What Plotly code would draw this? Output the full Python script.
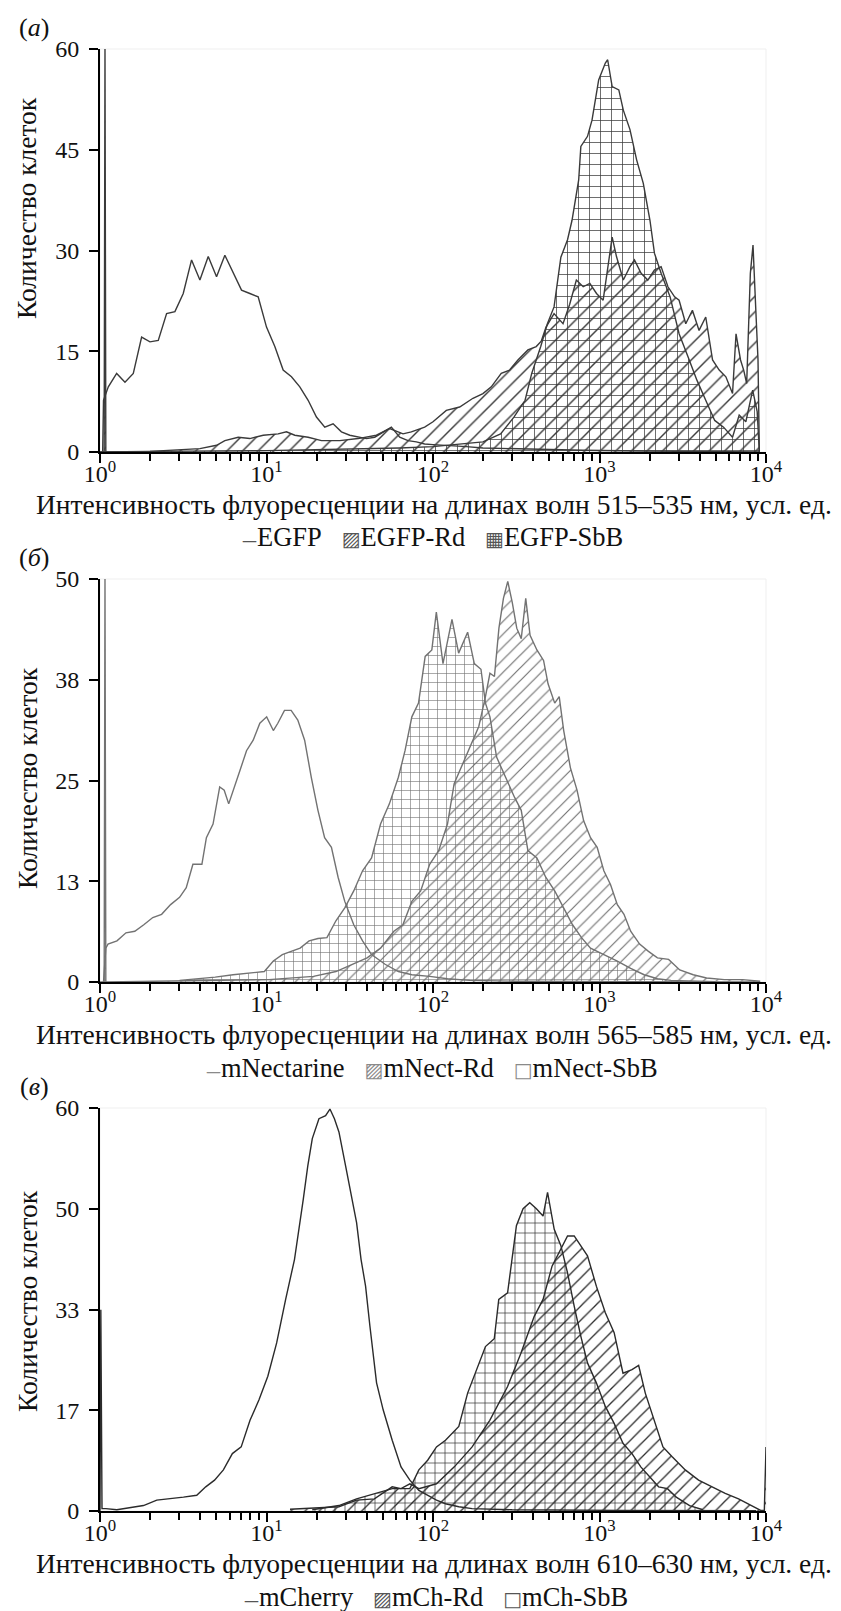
import plotly.graph_objects as go

# ---------------- data (log10 of intensity, cell counts) ----------------
# Panel (a)
EGFP_LOGX = [0.016, 0.021, 0.05, 0.10, 0.15, 0.20, 0.25, 0.30, 0.35, 0.40, 0.45, 0.50,
             0.55, 0.60, 0.65, 0.70, 0.75, 0.80, 0.85, 0.90, 0.95, 1.00,
             1.05, 1.10, 1.15, 1.20, 1.25, 1.30, 1.35, 1.40, 1.45, 1.50,
             1.55, 1.60, 1.65, 1.70, 1.75, 1.80, 1.85, 1.90, 1.95, 2.00,
             2.10, 2.20, 2.30, 2.45, 2.65, 2.90, 3.25, 3.65, 3.96]
EGFP_Y = [0, 7.7, 9.7, 11.7, 10.4, 11.7, 17.1, 16.4, 16.6, 20.6, 20.9, 23.6,
          28.6, 25.6, 29.1, 26.1, 29.3, 26.6, 24.1, 23.6, 23.1, 18.6,
          15.7, 12.2, 11.2, 9.7, 7.7, 5.2, 3.7, 4.2, 3.0, 2.5,
          2.2, 2.0, 2.2, 3.0, 3.7, 2.2, 1.7, 1.5, 1.2, 1.1,
          1.0, 0.8, 0.6, 0.5, 0.35, 0.25, 0.15, 0.1, 0]

EGFP_RD_LOGX = [0.0, 0.025, 0.03, 0.035, 0.30, 0.50, 0.60, 0.70, 0.75, 0.83, 0.90, 0.98, 1.07, 1.12,
                1.17, 1.25, 1.33, 1.44, 1.55, 1.66, 1.74, 1.82, 1.87, 1.95,
                2.00, 2.08, 2.16, 2.24, 2.30, 2.35, 2.41, 2.46, 2.51, 2.57,
                2.62, 2.65, 2.679, 2.727, 2.781, 2.821, 2.861, 2.902, 2.942, 2.982,
                3.022, 3.076, 3.102, 3.143, 3.183, 3.210, 3.250, 3.290, 3.330, 3.370,
                3.411, 3.451, 3.478, 3.518, 3.558, 3.598, 3.638, 3.679, 3.719, 3.759,
                3.799, 3.820, 3.847, 3.866, 3.884, 3.906, 3.922, 3.938, 3.952, 3.960]
EGFP_RD_Y = [0, 0, 60, 0, 0.1, 0.3, 0.5, 1.0, 1.7, 2.2, 2.0, 2.5, 2.7, 3.0,
             2.5, 2.2, 1.7, 1.7, 2.0, 2.5, 3.5, 2.7, 3.0, 3.7,
             4.5, 6.2, 6.7, 8.0, 8.7, 9.7, 11.7, 12.2, 13.7, 15.2,
             15.7, 16.5, 18.6, 20.6, 19.1, 22.0, 25.6, 24.6, 25.1, 23.6,
             22.6, 32.0, 29.1, 25.6, 27.6, 28.6, 26.6, 25.6, 27.1, 27.6,
             24.6, 23.1, 22.6, 19.1, 21.1, 18.1, 20.1, 13.7, 12.2, 11.2,
             8.7, 17.6, 13.7, 12.2, 10.2, 26.6, 30.8, 21.6, 13.7, 0]

EGFP_SBB_LOGX = [0.0, 0.30, 1.00, 1.50, 1.80, 2.00, 2.10, 2.20, 2.30,
                 2.406, 2.486, 2.553, 2.593, 2.647, 2.687, 2.727, 2.768, 2.808, 2.835,
                 2.875, 2.888, 2.928, 2.955, 2.995, 3.035, 3.049, 3.076, 3.116, 3.143,
                 3.183, 3.223, 3.263, 3.303, 3.330, 3.370, 3.424, 3.478, 3.531, 3.585,
                 3.638, 3.692, 3.745, 3.799, 3.839, 3.879, 3.920, 3.947, 3.960]
EGFP_SBB_Y = [0, 0.1, 0.2, 0.4, 0.6, 0.8, 1.0, 1.2, 1.5,
              2.7, 5.2, 7.7, 11.7, 15.7, 19.1, 21.6, 29.0, 31.6, 34.5,
              40.5, 45.5, 47.0, 49.4, 55.4, 57.9, 58.4, 54.4, 53.9, 50.9,
              48.0, 43.5, 40.0, 34.5, 29.6, 26.6, 23.1, 17.6, 14.2, 10.7,
              7.7, 4.7, 3.7, 2.2, 5.5, 4.5, 9.2, 6.0, 0]

# Panel (b)
MNECT_LOGX = [0.021, 0.035, 0.048, 0.102, 0.156, 0.209, 0.263, 0.317, 0.370, 0.424,
              0.478, 0.518, 0.558, 0.612, 0.639, 0.679, 0.719, 0.746, 0.773, 0.799,
              0.840, 0.880, 0.920, 0.960, 1.001, 1.041, 1.068, 1.108, 1.148, 1.188,
              1.229, 1.269, 1.309, 1.349, 1.390, 1.430, 1.470, 1.524, 1.577, 1.631,
              1.712, 1.792, 1.873, 1.980, 2.087, 2.221, 2.490, 3.160, 3.965]
MNECT_Y = [0, 4.2, 4.7, 5.1, 6.1, 6.3, 7.1, 8.0, 8.4, 9.6,
           10.5, 11.7, 14.6, 14.6, 17.9, 19.6, 24.2, 23.8, 22.1, 23.8,
           26.2, 28.7, 30.0, 32.1, 32.9, 31.2, 32.1, 33.7, 33.7, 32.5,
           30.0, 25.4, 21.3, 17.9, 16.7, 13.0, 10.0, 7.1, 5.1, 3.4,
           2.2, 1.3, 0.9, 0.7, 0.4, 0.2, 0.1, 0.05, 0]

MNECT_RD_LOGX = [0.0, 0.025, 0.03, 0.035,
                 1.014, 1.282, 1.417, 1.497, 1.604, 1.685, 1.765, 1.819, 1.873, 1.926,
                 1.980, 2.034, 2.087, 2.127, 2.168, 2.221, 2.275, 2.315, 2.342, 2.369,
                 2.396, 2.423, 2.449, 2.476, 2.503, 2.530, 2.557, 2.583, 2.624, 2.664,
                 2.691, 2.731, 2.758, 2.785, 2.825, 2.865, 2.905, 2.946, 2.986, 3.026,
                 3.066, 3.107, 3.147, 3.187, 3.241, 3.294, 3.348, 3.415, 3.482, 3.563,
                 3.643, 3.750, 3.858, 3.965]
MNECT_RD_Y = [0, 0, 50, 0,
              0.3, 0.7, 1.3, 2.0, 3.0, 4.2, 6.3, 7.1, 10.0, 11.3,
              14.6, 16.3, 19.6, 24.6, 26.6, 29.2, 31.7, 35.4, 38.3, 37.9,
              43.9, 47.6, 49.7, 47.1, 43.9, 42.6, 47.6, 43.0, 41.2, 39.9,
              37.0, 34.6, 35.4, 31.2, 26.6, 23.8, 20.0, 17.9, 16.7, 13.8,
              12.1, 9.6, 8.4, 6.3, 4.7, 3.8, 3.0, 2.8, 1.5, 0.9,
              0.5, 0.3, 0.3, 0.1]

MNECT_SBB_LOGX = [0.478, 0.585, 0.692, 0.799, 0.907, 0.987, 1.041, 1.095, 1.148, 1.202,
                  1.256, 1.309, 1.363, 1.417, 1.470, 1.524, 1.577, 1.631, 1.685, 1.738,
                  1.792, 1.832, 1.873, 1.913, 1.953, 1.993, 2.020, 2.060, 2.114, 2.154,
                  2.208, 2.248, 2.288, 2.315, 2.342, 2.382, 2.436, 2.490, 2.530, 2.570,
                  2.624, 2.677, 2.731, 2.785, 2.838, 2.892, 2.946, 3.026, 3.107, 3.187,
                  3.268, 3.348, 3.429, 3.697]
MNECT_SBB_Y = [0.2, 0.4, 0.6, 0.9, 1.1, 1.3, 2.6, 3.4, 3.8, 4.2,
               5.1, 5.4, 5.5, 7.6, 9.2, 11.3, 13.8, 15.4, 19.6, 22.1,
               25.4, 28.7, 32.9, 34.6, 40.4, 41.2, 45.9, 39.5, 45.0, 40.8,
               43.4, 39.5, 38.8, 34.6, 32.9, 27.9, 25.4, 22.9, 21.3, 16.3,
               15.4, 13.0, 11.3, 9.2, 7.1, 5.5, 4.2, 3.4, 2.6, 1.7,
               0.9, 0.4, 0.2, 0.05]

# Panel (c)  (axis units: four equal tick steps up to the top tick)
MCH_LOGX = [0.0, 0.005, 0.012, 0.035, 0.101, 0.181, 0.261, 0.341, 0.421, 0.501,
            0.581, 0.635, 0.688, 0.741, 0.795, 0.848, 0.901, 0.955, 1.008, 1.061,
            1.115, 1.168, 1.221, 1.248, 1.275, 1.315, 1.355, 1.381, 1.408, 1.435,
            1.475, 1.515, 1.541, 1.568, 1.595, 1.621, 1.661, 1.701, 1.755, 1.808,
            1.861, 1.915, 1.968, 2.021, 2.075, 2.155, 2.235, 2.475, 3.141, 3.941]
MCH_Y = [0, 33.3, 0.4, 0.4, 0.2, 0.55, 0.9, 1.8, 2.0, 2.3,
         2.6, 4.0, 5.1, 6.8, 9.5, 10.6, 15.0, 18.4, 22.3, 27.8,
         35.0, 41.6, 51.6, 57.1, 61.6, 64.9, 65.4, 66.5, 64.9, 62.7,
         57.1, 51.6, 47.7, 41.6, 37.2, 30.6, 21.2, 16.7, 11.7, 7.3,
         5.1, 3.4, 2.6, 1.8, 1.2, 0.7, 0.4, 0.2, 0.1, 0.05]

MCH_RD_LOGX = [1.141, 1.328, 1.435, 1.541, 1.648, 1.755, 1.808, 1.861, 1.915, 2.021,
               2.128, 2.235, 2.341, 2.448, 2.528, 2.608, 2.661, 2.715, 2.768, 2.808,
               2.848, 2.888, 2.928, 2.981, 3.035, 3.088, 3.141, 3.195, 3.235, 3.275,
               3.328, 3.381, 3.435, 3.515, 3.595, 3.675, 3.755, 3.835, 3.915, 3.968,
               3.99, 4.0]
MCH_RD_Y = [0.3, 0.5, 0.7, 1.8, 2.0, 4.0, 3.7, 4.5, 3.7, 4.5,
            7.3, 10.6, 15.0, 20.6, 26.1, 32.2, 35.0, 40.5, 43.3, 45.5,
            45.5, 43.9, 42.2, 37.2, 32.8, 29.5, 22.8, 23.4, 24.1, 19.5,
            15.0, 10.6, 9.0, 6.8, 5.1, 4.0, 2.9, 2.0, 0.9, 0.1,
            0.1, 10.6]

MCH_SBB_LOGX = [1.275, 1.435, 1.541, 1.648, 1.755, 1.861, 1.915, 1.968, 2.021, 2.075,
                2.155, 2.208, 2.261, 2.315, 2.368, 2.395, 2.448, 2.501, 2.541, 2.581,
                2.621, 2.661, 2.688, 2.728, 2.768, 2.808, 2.848, 2.888, 2.928, 2.981,
                3.035, 3.088, 3.141, 3.195, 3.248, 3.301, 3.355, 3.408, 3.461, 3.541,
                3.621]
MCH_SBB_Y = [0.2, 0.9, 2.0, 2.9, 3.7, 3.7, 6.8, 8.4, 10.6, 11.7,
             14.0, 19.5, 23.4, 27.2, 28.5, 35.0, 36.1, 47.2, 50.0, 51.0,
             50.0, 48.8, 52.7, 46.6, 43.9, 39.4, 33.9, 28.9, 24.5, 21.2,
             17.3, 14.5, 11.2, 9.5, 7.3, 5.6, 4.0, 3.7, 2.3, 0.9,
             0.2]

# axis ticks
X_TICKVALS = [1, 10, 100, 1000, 10000]
X_TICKTEXT = ["10<sup>0</sup>", "10<sup>1</sup>", "10<sup>2</sup>", "10<sup>3</sup>", "10<sup>4</sup>"]
X_MINOR = [m * d for d in (1, 10, 100, 1000) for m in range(2, 10)]

Y_TICKVALS_A = [0, 15, 30, 45, 60]
Y_TICKTEXT_A = ["0", "15", "30", "45", "60"]
Y_TICKVALS_B = [0, 12.5, 25, 37.5, 50]
Y_TICKTEXT_B = ["0", "13", "25", "38", "50"]
Y_TICKVALS_C = [0, 16.667, 33.333, 50, 66.667]
Y_TICKTEXT_C = ["0", "17", "33", "50", "60"]

PANEL_LABELS = ["(<i>а</i>)", "(<i>б</i>)", "(<i>в</i>)"]
Y_TITLE = "Количество клеток"
X_TITLES = ["Интенсивность флуоресценции на длинах волн 515–535 нм, усл. ед.",
            "Интенсивность флуоресценции на длинах волн 565–585 нм, усл. ед.",
            "Интенсивность флуоресценции на длинах волн 610–630 нм, усл. ед."]
LEGEND_NAMES = [["EGFP", "EGFP-Rd", "EGFP-SbB"],
                ["mNectarine", "mNect-Rd", "mNect-SbB"],
                ["mCherry", "mCh-Rd", "mCh-SbB"]]
LEGEND_ICONS = [["—", "▨", "▦"], ["—", "▨", "□"], ["—", "▨", "□"]]

# ---------------- layout geometry (pixels) ----------------
W, H = 841, 1611
X0, X1 = 100, 766
PANELS = [(49, 452), (579, 982), (1108, 1511)]
FONT = "Liberation Serif"
COLORS = ["#3a3a3a", "#727272", "#2b2b2b"]
ICON_COLORS = ["#555555", "#8a8a8a", "#555555"]
PATTERN_SIZES = [11, 9, 10]


def py(p):
    return 1 - p / H


def px(p):
    return p / W


fig = go.Figure()

series = [
    (0, EGFP_LOGX, EGFP_Y, LEGEND_NAMES[0][0], None),
    (0, EGFP_RD_LOGX, EGFP_RD_Y, LEGEND_NAMES[0][1], "/"),
    (0, EGFP_SBB_LOGX, EGFP_SBB_Y, LEGEND_NAMES[0][2], "+"),
    (1, MNECT_LOGX, MNECT_Y, LEGEND_NAMES[1][0], None),
    (1, MNECT_RD_LOGX, MNECT_RD_Y, LEGEND_NAMES[1][1], "/"),
    (1, MNECT_SBB_LOGX, MNECT_SBB_Y, LEGEND_NAMES[1][2], "+"),
    (2, MCH_LOGX, MCH_Y, LEGEND_NAMES[2][0], None),
    (2, MCH_RD_LOGX, MCH_RD_Y, LEGEND_NAMES[2][1], "/"),
    (2, MCH_SBB_LOGX, MCH_SBB_Y, LEGEND_NAMES[2][2], "+"),
]

for idx, lx, yv, name, pat in series:
    sfx = "" if idx == 0 else str(idx + 1)
    col = COLORS[idx]
    kw = dict(x=[10 ** v for v in lx], y=yv, name=name, mode="lines",
              line=dict(color=col, width=1.4), xaxis="x" + sfx, yaxis="y" + sfx,
              showlegend=False, hoverinfo="skip")
    if pat:
        kw.update(fill="tozeroy", fillcolor="rgba(0,0,0,0)",
                  fillpattern=dict(shape=pat, size=PATTERN_SIZES[idx], solidity=0.13, fgcolor=col,
                                   bgcolor="rgba(255,255,255,0)", fillmode="replace"))
    fig.add_trace(go.Scatter(**kw))

yticks = [(Y_TICKVALS_A, Y_TICKTEXT_A, 60), (Y_TICKVALS_B, Y_TICKTEXT_B, 50),
          (Y_TICKVALS_C, Y_TICKTEXT_C, 66.667)]
tickfont = dict(family=FONT, size=24, color="#111")
layout = {}
annotations = []
shapes = []
ytitle_centers = [208, 778, 1301]
legend_centers = [(433, 537), (432, 1068), (436, 1597)]
for i, (top, bot) in enumerate(PANELS):
    sfx = "" if i == 0 else str(i + 1)
    tv, tt, ymax = yticks[i]
    layout["xaxis" + sfx] = dict(
        domain=[px(X0), px(X1)], anchor="y" + sfx, type="log", range=[0, 4],
        tickmode="array", tickvals=X_TICKVALS, ticktext=X_TICKTEXT,
        ticks="outside", ticklen=9, tickwidth=2, tickcolor="black",
        showline=True, linecolor="black", linewidth=2, showgrid=False, zeroline=False,
        tickfont=tickfont, ticklabelstandoff=-10,
        minor=dict(tickvals=X_MINOR, ticks="outside", ticklen=7, tickwidth=1.6,
                   tickcolor="black", showgrid=False),
        automargin=False, fixedrange=True)
    layout["yaxis" + sfx] = dict(
        domain=[py(bot), py(top)], anchor="x" + sfx, range=[0, ymax],
        tickmode="array", tickvals=tv, ticktext=tt,
        ticks="outside", ticklen=9, tickwidth=2, tickcolor="black",
        showline=True, linecolor="black", linewidth=2, showgrid=False, zeroline=False,
        tickfont=tickfont, ticklabelstandoff=5, automargin=False, fixedrange=True)
    shapes.append(dict(type="rect", xref="x" + sfx + " domain", yref="y" + sfx + " domain",
                       x0=0, x1=1, y0=0, y1=1, line=dict(color="#efefef", width=1), layer="below"))
    annotations.append(dict(text=PANEL_LABELS[i], xref="paper", yref="paper",
                            x=px(34), y=py(top - 22), xanchor="center", yanchor="middle",
                            showarrow=False, font=dict(family=FONT, size=26, color="#111")))
    annotations.append(dict(text=Y_TITLE, xref="paper", yref="paper", textangle=-90,
                            x=px(27), y=py(ytitle_centers[i]), xanchor="center", yanchor="middle",
                            showarrow=False, font=dict(family=FONT, size=27.5, color="#111")))
    annotations.append(dict(text=X_TITLES[i], xref="paper", yref="paper",
                            x=px(434), y=py(bot + 52), xanchor="center", yanchor="middle",
                            showarrow=False, font=dict(family=FONT, size=27.5, color="#111")))
    # legend row (line / hatched / grid keys)
    parts = []
    for k, (icon, name) in enumerate(zip(LEGEND_ICONS[i], LEGEND_NAMES[i])):
        fs = 15 if k == 0 else 20
        parts.append('<span style="font-family:DejaVu Sans;font-size:%dpx;fill:%s">%s</span>%s'
                     % (fs, ICON_COLORS[i], icon, name))
    lx_c, ly_c = legend_centers[i]
    annotations.append(dict(text="\u00a0\u00a0\u00a0".join(parts), xref="paper", yref="paper",
                            x=px(lx_c), y=py(ly_c), xanchor="center", yanchor="middle",
                            showarrow=False, font=dict(family=FONT, size=26.5, color="#111")))

fig.update_layout(
    width=W, height=H, autosize=False,
    margin=dict(l=0, r=0, t=0, b=0, autoexpand=False),
    paper_bgcolor="white", plot_bgcolor="white",
    template="none", annotations=annotations, shapes=shapes, showlegend=False,
    font=dict(family=FONT, color="#111"),
    **layout)

fig.write_html("out.html")
